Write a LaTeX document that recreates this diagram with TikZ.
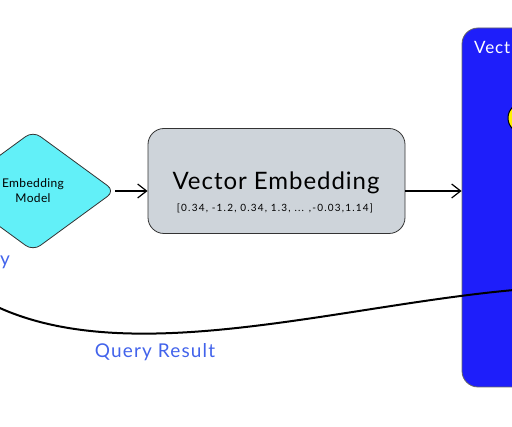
\documentclass[tikz,border=0pt]{standalone}
\usepackage{fontspec}
\setmainfont{Lato}
\usetikzlibrary{shapes.geometric,arrows.meta}
\definecolor{dcyan}{HTML}{62F0F8}
\definecolor{dgrey}{HTML}{CED4DA}
\definecolor{dblue}{HTML}{1E1EFA}
\definecolor{tblue}{HTML}{4263EB}
\definecolor{dyellow}{HTML}{FFF200}
\tikzset{
  arr/.style={draw=black, line width=1.2pt, -{Straight Barb[length=9pt,width=14pt,line width=1.2pt]}},
  dia/.style={diamond, draw=black!80, fill=dcyan, line width=0.8pt, minimum width=164pt, minimum height=120pt, rounded corners=9pt, inner sep=0pt, align=center},
  greybox/.style={rectangle, draw=black!80, fill=dgrey, line width=0.8pt, rounded corners=16pt, minimum width=257pt, minimum height=105pt, inner sep=0pt},
  bluebox/.style={rectangle, draw=black!60, fill=dblue, line width=0.8pt, rounded corners=16pt, minimum width=140pt, minimum height=359pt, inner sep=0pt},
  bluetext/.style={text=tblue, font=\fontsize{19}{21}\selectfont\addfontfeatures{LetterSpace=6}, inner sep=0pt},
}
\begin{document}
\begin{tikzpicture}[x=1pt,y=-1pt]
\useasboundingbox (0,0) rectangle (512,427);
\clip (0,0) rectangle (512,427);
\node[dia] (model) at (33,191) {};
\node[font=\fontsize{12}{15}\selectfont\addfontfeatures{LetterSpace=3}, align=center] (modeltxt) at (33,191) {Embedding\\Model};
\node[greybox] (emb) at (276.5,181) {};
\node[font=\fontsize{24}{26}\selectfont\addfontfeatures{LetterSpace=4}, inner sep=0pt] (embtitle) at (276,183) {Vector Embedding};
\node[font=\fontsize{10}{12}\selectfont\addfontfeatures{LetterSpace=12}, inner sep=0pt] (embvec) at (275,208) {[0.34, -1.2, 0.34, 1.3, ... ,-0.03,1.14]};
\node[bluebox] (db) at (532,207.5) {};
\node[anchor=west, text=white, font=\fontsize{17}{19}\selectfont\addfontfeatures{LetterSpace=5}, inner sep=0pt] (dbtitle) at (474,47) {Vect};
\node[circle, draw=black, fill=dyellow, line width=1pt, minimum size=30pt, inner sep=0pt] (dot) at (523,118) {};
\draw[arr] (model.east) -- (model.east -| emb.west);
\draw[arr] (emb.east |- model.east) -- (db.west |- model.east);
\coordinate (qs) at (540,288);
\coordinate (qe) at (-20,298);
\draw[line width=2pt, line cap=round] (qs) .. controls (350,300) and (120,378) .. (qe);
\node[bluetext] (qres) at (155,352) {Query Result};
\node[bluetext, anchor=west] (qy) at (0,262) {y};
\end{tikzpicture}
\end{document}
